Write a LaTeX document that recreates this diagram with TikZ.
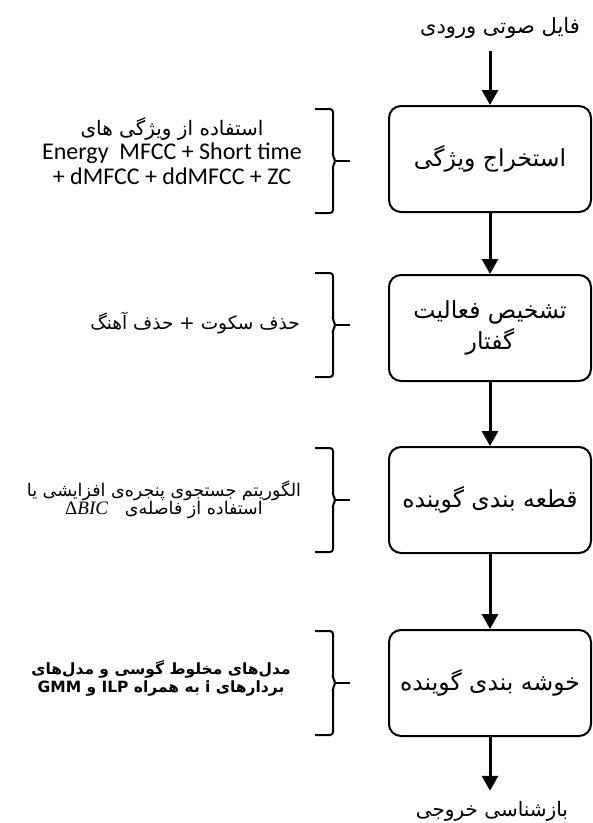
\documentclass[tikz,border=0pt]{standalone}
\usepackage{fontspec}
\usetikzlibrary{arrows.meta}
\TeXXeTstate=1
\newfontfamily\arabicfont[Script=Arabic]{DejaVu Sans}
\newfontfamily\latinfont{Carlito}
\newfontfamily\serifsym{Liberation Serif}
\newcommand\faline[1]{\beginR #1\endR}

\begin{document}
\begin{tikzpicture}[x=1pt,y=-1pt,
  stage/.style={draw, line width=2pt, rounded corners=12pt,
    minimum width=202pt, minimum height=106pt, align=center,
    font=\arabicfont\fontsize{23.5}{31}\selectfont},
  terminal/.style={inner sep=2pt, font=\arabicfont\fontsize{21}{24}\selectfont},
  note/.style={align=center, inner sep=0pt},
  flow/.style={line width=3pt, -{Triangle[width=16pt,length=15pt]}},
  bracestroke/.style={line width=2pt, rounded corners=3pt},
  pics/sidebrace/.style={code={
    \draw[bracestroke] (-18,-52) -- (0,-52) -- (0,-4) -- (3,0) -- (0,4) -- (0,52) -- (-18,52);
    \draw[line width=2pt] (2,0) -- (17,0);
  }}]
\useasboundingbox[fill=white] (0,0) rectangle (593,823);

% input and output labels
\node[terminal] (in) at (500,28) {\faline{فایل صوتی ورودی}};
\node[terminal, font=\arabicfont\fontsize{20}{24}\selectfont] (out) at (492,811) {\faline{بازشناسی خروجی}};

% processing stages
\node[stage] (s1) at (490,159) {\faline{استخراج ویژگی}};
\node[stage] (s2) at (490,328) {\faline{تشخیص فعالیت}\\\faline{گفتار}};
\node[stage] (s3) at (490,500) {\faline{قطعه بندی گوینده}};
\node[stage] (s4) at (490,683) {\faline{خوشه بندی گوینده}};

% flow arrows
\draw[flow, shorten <=10pt] (in.south -| s1.north) -- (s1.north);
\draw[flow] (s1) -- (s2);
\draw[flow] (s2) -- (s3);
\draw[flow] (s3) -- (s4);
\draw[flow, shorten >=8pt] (s4.south) -- (out.north -| s4.south);

% braces with descriptions
\pic at (333,161) {sidebrace};
\pic at (333,325) {sidebrace};
\pic at (333,500) {sidebrace};
\pic at (333,683) {sidebrace};

\node[note, font=\latinfont\fontsize{24}{24.5}\selectfont] (d1) at (172,151)
  {{\arabicfont\fontsize{20}{24.5}\selectfont\faline{استفاده از ویژگی های}}\\
   Energy\ \ MFCC + Short time\\
   + dMFCC + ddMFCC + ZC};
\node[note, font=\arabicfont\fontsize{18.5}{22}\selectfont] (d2) at (195,323)
  {\faline{حذف سکوت + حذف آهنگ}};
\node[note, font=\arabicfont\fontsize{17.5}{18}\selectfont] (d3) at (164,500)
  {\faline{الگوریتم جستجوی پنجره‌ی افزایشی یا}\\
   \faline{استفاده از فاصله‌ی \ \ \beginL{\serifsym\fontsize{19}{18}\selectfont Δ\textit{BIC}}\endL}};
\node[note, font=\arabicfont\bfseries\fontsize{15.5}{18}\selectfont] (d4) at (161,678)
  {\faline{مدل‌های مخلوط گوسی و مدل‌های}\\
   \faline{بردارهای i به همراه ILP و GMM}};
\end{tikzpicture}
\end{document}
